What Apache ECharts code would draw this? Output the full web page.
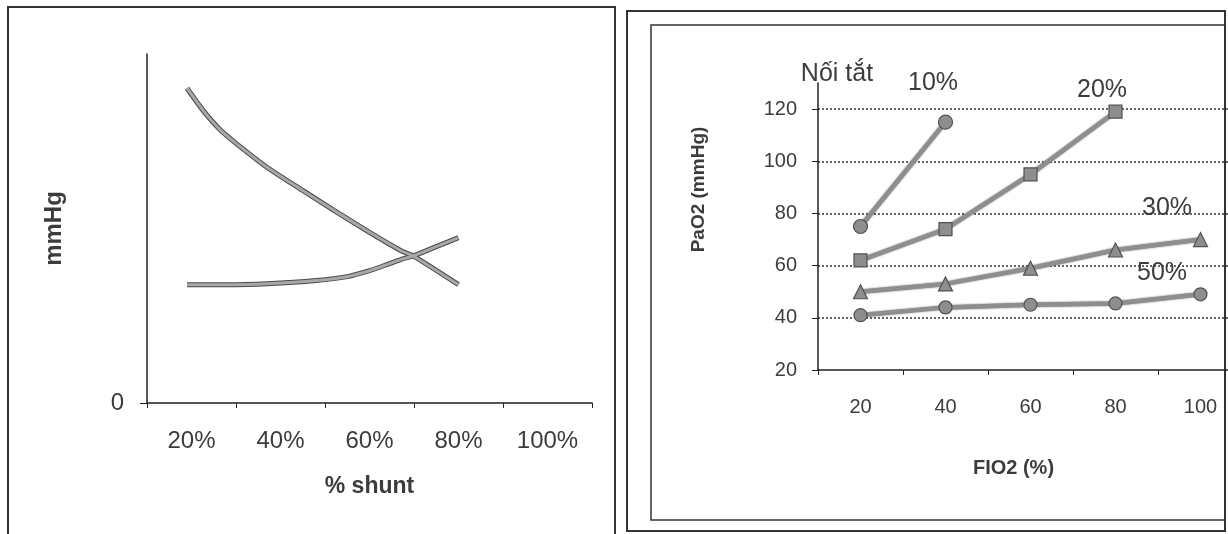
<!DOCTYPE html>
<html>
<head>
<meta charset="utf-8">
<script src="https://cdn.jsdelivr.net/npm/echarts@6/dist/echarts.min.js"></script>
<style>
html,body{margin:0;padding:0;background:#fff;}
#c{width:1228px;height:534px;}
</style>
</head>
<body>
<div id="c"></div>
<script>
// ---- Left chart data (schematic: mmHg vs % shunt) ----
const shuntCategories = ['20%', '40%', '60%', '80%', '100%'];
const curveFallX = [19, 22.5, 26.5, 30, 37, 45, 52, 60, 67, 70, 80];
const curveFallY = [90.2, 84, 78.2, 74.4, 67.5, 60.9, 55.2, 48.9, 43.7, 42.0, 33.9];
const curveRiseX = [19, 28, 37, 48, 55, 60, 64, 67, 70, 75, 80];
const curveRiseY = [33.9, 33.9, 34.2, 35.1, 36.2, 37.9, 39.7, 41.1, 42.2, 44.8, 47.4];
const leftYTicks = [0];

// ---- Right chart data (PaO2 vs FiO2 for different shunt fractions) ----
const fio2Categories = ['20', '40', '60', '80', '100'];
const shunt10 = [75, 115, null, null, null];
const shunt20 = [62, 74, 95, 119, null];
const shunt30 = [50, 53, 59, 66, 70];
const shunt50 = [41, 44, 45, 45.5, 49];
const rightYTicks = [20, 40, 60, 80, 100, 120];
const seriesNames = ['10%', '20%', '30%', '50%'];

const chart = echarts.init(document.getElementById('c'));
const txt = '#3c3c3c';
const lineGray = '#8e8e8e';
const zip = (xs, ys) => xs.map((x, i) => [x, ys[i]]);

function curveSeries(name, data) {
  return [
    { name: name + '-edge', type: 'line', xAxisIndex: 1, yAxisIndex: 0, data: data, smooth: 0.2,
      symbol: 'none', silent: true, lineStyle: { color: '#4a4a4a', width: 5 }, z: 2 },
    { name: name, type: 'line', xAxisIndex: 1, yAxisIndex: 0, data: data, smooth: 0.2,
      symbol: 'none', silent: true, lineStyle: { color: '#a8a8a8', width: 3 }, z: 3 }
  ];
}

function pointSeries(name, data, symbol, size) {
  return {
    name: name, type: 'line', xAxisIndex: 2, yAxisIndex: 1, data: data,
    symbol: symbol, symbolSize: size, connectNulls: false,
    lineStyle: { color: lineGray, width: 4.5, shadowColor: 'rgba(0,0,0,0.55)', shadowBlur: 2 },
    itemStyle: { color: lineGray, borderColor: '#505050', borderWidth: 1.2 },
    z: 3
  };
}

const option = {
  animation: false,
  backgroundColor: '#fff',
  textStyle: { fontFamily: 'Liberation Sans, Arial, sans-serif' },
  grid: [
    { left: 147, width: 445, top: 54, height: 349, outerBoundsMode: 'none', containLabel: false },
    { left: 818, width: 425, top: 83, height: 287, outerBoundsMode: 'none', containLabel: false }
  ],
  xAxis: [
    { type: 'category', gridIndex: 0, data: shuntCategories, boundaryGap: true,
      name: '% shunt', nameLocation: 'middle', nameGap: 72,
      nameTextStyle: { fontSize: 23, fontWeight: 'bold', color: txt },
      axisLine: { lineStyle: { color: '#222', width: 1.5 } },
      axisTick: { show: true, inside: false, length: 5, lineStyle: { color: '#222' } },
      axisLabel: { fontSize: 24, color: txt, margin: 26 },
      splitLine: { show: false } },
    { type: 'value', gridIndex: 0, min: 10, max: 110, show: false },
    { type: 'category', gridIndex: 1, data: fio2Categories, boundaryGap: true,
      name: 'FIO2 (%)', nameLocation: 'middle', nameGap: 88,
      nameTextStyle: { fontSize: 20, fontWeight: 'bold', color: txt, padding: [0, 34, 0, 0] },
      axisLine: { lineStyle: { color: '#222', width: 1.5 } },
      axisTick: { show: true, length: 5, lineStyle: { color: '#222' } },
      axisLabel: { fontSize: 20, color: txt, margin: 27 },
      splitLine: { show: false } }
  ],
  yAxis: [
    { type: 'value', gridIndex: 0, min: 0, max: 100,
      name: 'mmHg', nameLocation: 'middle', nameGap: 81, nameRotate: 90,
      nameTextStyle: { fontSize: 24, fontWeight: 'bold', color: txt },
      axisLine: { show: true, lineStyle: { color: '#222', width: 1.5 } },
      axisTick: { show: true, length: 7, customValues: leftYTicks, lineStyle: { color: '#222' } },
      axisLabel: { fontSize: 24, color: txt, margin: 23, customValues: leftYTicks },
      splitLine: { show: false } },
    { type: 'value', gridIndex: 1, min: 20, max: 130, interval: 20,
      name: 'PaO2 (mmHg)', nameLocation: 'middle', nameGap: 110, nameRotate: 90,
      nameTextStyle: { fontSize: 19, fontWeight: 'bold', color: txt, padding: [0, 0, 0, 74] },
      axisLine: { show: true, lineStyle: { color: '#222', width: 1.5 } },
      axisTick: { show: true, length: 6, customValues: rightYTicks, lineStyle: { color: '#222' } },
      axisLabel: { fontSize: 20, color: txt, margin: 21, customValues: rightYTicks },
      splitLine: { show: true, showMinLine: false,
        lineStyle: { color: '#333', type: [2, 2], width: 1.5 } } }
  ],
  series: [
    ...curveSeries('fall', zip(curveFallX, curveFallY)),
    ...curveSeries('rise', zip(curveRiseX, curveRiseY)),
    pointSeries(seriesNames[0], shunt10, 'circle', 14),
    pointSeries(seriesNames[1], shunt20, 'rect', 13),
    pointSeries(seriesNames[2], shunt30, 'triangle', 14),
    pointSeries(seriesNames[3], shunt50, 'circle', 13)
  ],
  graphic: [
    { type: 'rect', shape: { x: 8, y: 7, width: 607, height: 545 }, silent: true,
      style: { fill: 'none', stroke: '#333', lineWidth: 2 } },
    { type: 'rect', shape: { x: 627, y: 11, width: 598, height: 520 }, silent: true,
      style: { fill: 'none', stroke: '#333', lineWidth: 2 } },
    { type: 'rect', shape: { x: 651, y: 25, width: 574, height: 495 }, silent: true,
      style: { fill: 'none', stroke: '#333', lineWidth: 1.5 } },
    { type: 'text', x: 837, y: 74, silent: true,
      style: { text: 'Nối tắt', fontSize: 25, fill: txt, align: 'center', verticalAlign: 'middle', fontFamily: 'Liberation Sans, Arial, sans-serif' } },
    { type: 'text', x: 933, y: 83, silent: true,
      style: { text: seriesNames[0], fontSize: 25, fill: txt, align: 'center', verticalAlign: 'middle', fontFamily: 'Liberation Sans, Arial, sans-serif' } },
    { type: 'text', x: 1102, y: 90, silent: true,
      style: { text: seriesNames[1], fontSize: 25, fill: txt, align: 'center', verticalAlign: 'middle', fontFamily: 'Liberation Sans, Arial, sans-serif' } },
    { type: 'text', x: 1167, y: 208, silent: true,
      style: { text: seriesNames[2], fontSize: 25, fill: txt, align: 'center', verticalAlign: 'middle', fontFamily: 'Liberation Sans, Arial, sans-serif' } },
    { type: 'text', x: 1162, y: 273, silent: true,
      style: { text: seriesNames[3], fontSize: 25, fill: txt, align: 'center', verticalAlign: 'middle', fontFamily: 'Liberation Sans, Arial, sans-serif' } }
  ]
};
chart.setOption(option);
</script>
</body>
</html>
